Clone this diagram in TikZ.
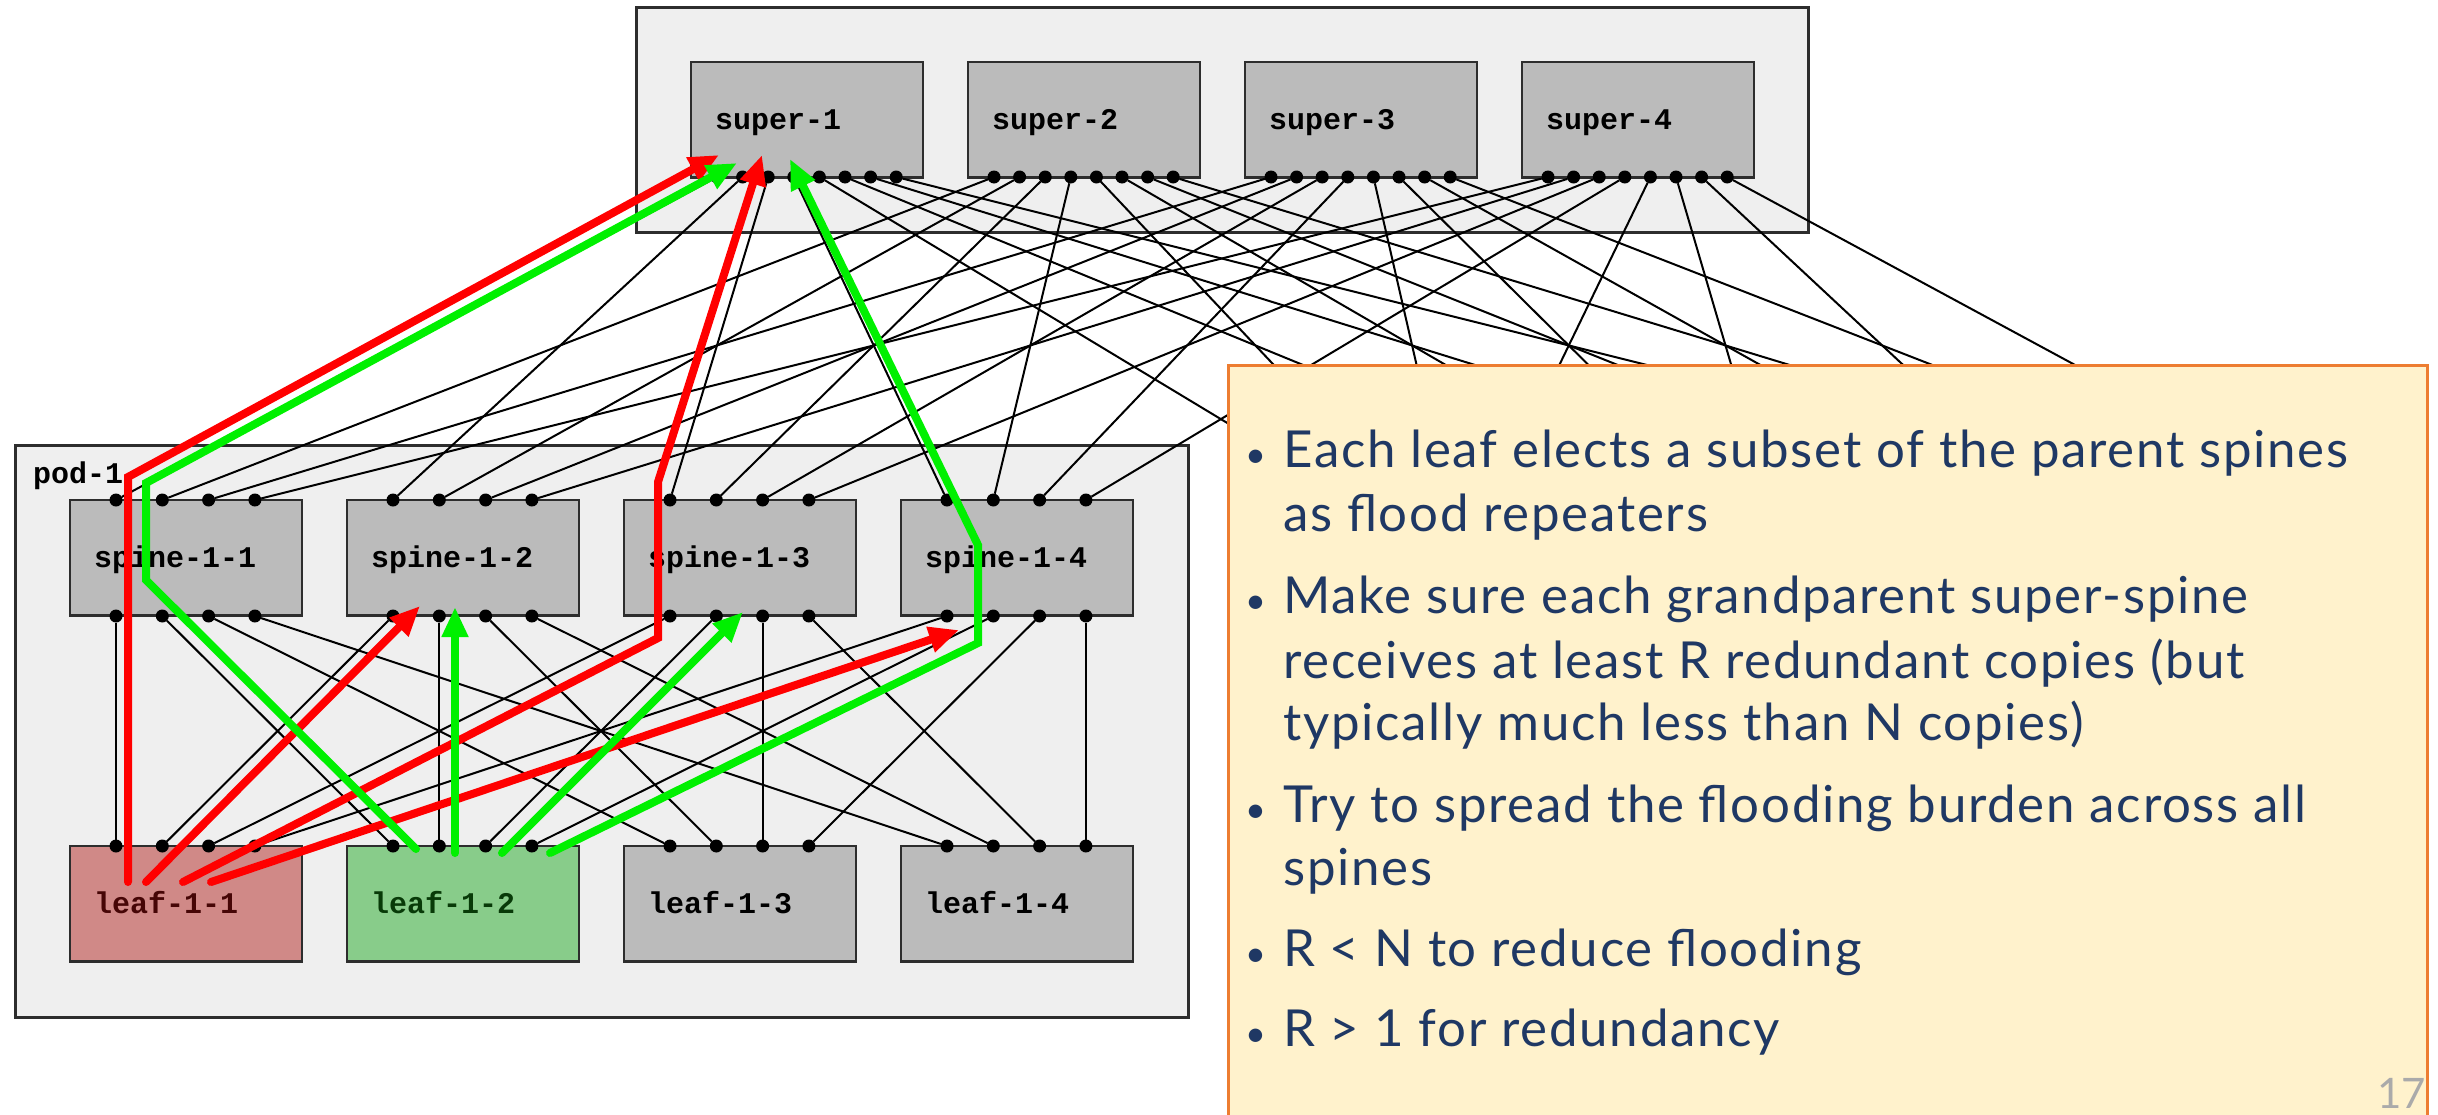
\documentclass[tikz,border=0pt]{standalone}
\usepackage{fontspec}
\usetikzlibrary{arrows.meta}
\newfontfamily\monofam{Liberation Mono}
\newfontfamily\notefam{Lato}[LetterSpace=3.4]
\newfontfamily\numfam{Lato}
\definecolor{panelfill}{RGB}{239,239,239}
\definecolor{panelline}{RGB}{45,45,45}
\definecolor{devfill}{RGB}{187,187,187}
\definecolor{redleaf}{RGB}{208,137,135}
\definecolor{greenleaf}{RGB}{136,204,138}
\definecolor{redleaftext}{RGB}{70,6,6}
\definecolor{greenleaftext}{RGB}{8,58,8}
\definecolor{floodred}{RGB}{255,0,0}
\definecolor{floodgreen}{RGB}{0,240,0}
\definecolor{notefill}{RGB}{255,242,204}
\definecolor{noteline}{RGB}{237,125,49}
\definecolor{notetext}{RGB}{31,56,100}
\definecolor{pagenum}{RGB}{170,170,170}
\begin{document}
\begin{tikzpicture}[x=1pt,y=-1pt,
  container/.style={draw=panelline, line width=3pt, fill=panelfill, anchor=north west,
    inner sep=0pt, outer sep=0pt},
  devbox/.style={draw=panelline, line width=2.5pt, fill=devfill, anchor=north west,
    minimum height=115.5pt, text width=184pt, inner xsep=24pt, inner ysep=0pt,
    outer sep=0pt, align=left, text height=20pt, text depth=0pt,
    font=\monofam\bfseries\fontsize{30pt}{30pt}\selectfont},
  leafstyle1/.style={fill=redleaf, text=redleaftext},
  leafstyle2/.style={fill=greenleaf, text=greenleaftext},
  leafstyle3/.style={},
  leafstyle4/.style={},
  portdot/.style={circle, fill=black, inner sep=0pt, minimum size=13pt, outer sep=0pt},
  link/.style={draw=black, line width=2pt},
  flood/.style={line width=8pt, line cap=round, line join=miter,
    -{Triangle[length=30pt,width=25pt]}},
  redflood/.style={flood, draw=floodred},
  greenflood/.style={flood, draw=floodgreen},
  notebox/.style={draw=noteline, line width=3pt, fill=notefill, anchor=north west,
    inner sep=0pt},
  noteline/.style={anchor=base west, inner sep=0pt, text=notetext,
    font=\notefam\fontsize{51pt}{58pt}\selectfont},
  notebullet/.style={anchor=base west, inner sep=0pt, text=notetext,
    font=\numfam\fontsize{36pt}{36pt}\selectfont},
  podname/.style={anchor=base west, inner sep=0pt,
    font=\monofam\bfseries\fontsize{30pt}{30pt}\selectfont}
]
\useasboundingbox (0,0) rectangle (2438,1114);
\fill[white] (0,0) rectangle (2438,1114);

% enclosing panels
\node[container, minimum width=1172pt, minimum height=225pt] (superrow) at (636,7) {};
\node[container, minimum width=1173pt, minimum height=572pt] (pod1) at (15,445) {};
\node[container, minimum width=1173pt, minimum height=572pt] (pod2) at (1254,445) {};
\node[podname] (pod1name) at (33,483) {pod-1};

% super spines with their eight ports
\foreach \k in {1,...,4}{
  \pgfmathsetmacro\sx{691+277*(\k-1)}
  \node[devbox] (super\k) at (\sx,62) {super-\k};
  \foreach \j in {0,...,7}{
    \pgfmathsetmacro\px{717+277*(\k-1)+25.6*\j}
    \node[portdot] (sp-\k-\j) at (\px,177) {};
  }
}

% pod-1 spines and leaves; pod-2 spine ports as coordinates
\foreach \k in {1,...,4}{
  \pgfmathsetmacro\sx{70+277*(\k-1)}
  \node[devbox] (spine\k) at (\sx,500) {spine-1-\k};
  \node[devbox, leafstyle\k] (leaf\k) at (\sx,846) {leaf-1-\k};
  \foreach \j in {0,...,3}{
    \pgfmathsetmacro\px{116+277*(\k-1)+46.3*\j}
    \node[portdot] (st-\k-\j) at (\px,500) {};
    \node[portdot] (sb-\k-\j) at (\px,616) {};
    \node[portdot] (lt-\k-\j) at (\px,846) {};
    \pgfmathsetmacro\qx{\px+1239}
    \coordinate (p2-\k-\j) at (\qx,500);
  }
}

% super port p -> spine (p mod 4)+1 of pod 1 or 2, spine port k-1
\foreach \k in {1,...,4}{
  \foreach \p in {0,...,3}{
    \pgfmathtruncatemacro\s{\p+1}
    \pgfmathtruncatemacro\t{\k-1}
    \pgfmathtruncatemacro\q{\p+4}
    \draw[link] (sp-\k-\p) -- (st-\s-\t);
    \draw[link] (sp-\k-\q) -- (p2-\s-\t);
  }
}

% spine k bottom port j -> leaf j+1 top port k-1
\foreach \k in {1,...,4}{
  \foreach \j in {0,...,3}{
    \pgfmathtruncatemacro\s{\j+1}
    \pgfmathtruncatemacro\t{\k-1}
    \draw[link] (sb-\k-\j) -- (lt-\s-\t);
  }
}

% flooding from leaf-1-1
\coordinate (r1a) at (128,882); \coordinate (r1b) at (128,477); \coordinate (r1c) at (719,155);
\coordinate (r2a) at (146,882); \coordinate (r2b) at (420,606);
\coordinate (r3a) at (183,882); \coordinate (r3b) at (658,638); \coordinate (r3c) at (658,482);
\coordinate (r3d) at (762,155);
\coordinate (r4a) at (211,882); \coordinate (r4b) at (959,630);
\draw[redflood] (r1a) -- (r1b) -- (r1c);
\draw[redflood] (r2a) -- (r2b);
\draw[redflood] (r3a) -- (r3b) -- (r3c) -- (r3d);
\draw[redflood] (r4a) -- (r4b);

% flooding from leaf-1-2
\coordinate (g1a) at (416,849); \coordinate (g1b) at (146,580); \coordinate (g1c) at (146,483);
\coordinate (g1d) at (737,163);
\coordinate (g2a) at (455,853); \coordinate (g2b) at (455,607);
\coordinate (g3a) at (502,853); \coordinate (g3b) at (743,612);
\coordinate (g4a) at (550,853); \coordinate (g4b) at (978,643); \coordinate (g4c) at (978,545);
\coordinate (g4d) at (790,159);
\draw[greenflood] (g1a) -- (g1b) -- (g1c) -- (g1d);
\draw[greenflood] (g2a) -- (g2b);
\draw[greenflood] (g3a) -- (g3b);
\draw[greenflood] (g4a) -- (g4b) -- (g4c) -- (g4d);

% notes panel
\node[notebox, minimum width=1199pt, minimum height=760pt] (notes) at (1227,364) {};
\foreach \y/\n in {467/b1, 613/b2, 822/b3, 966/b4, 1046/b5}
  \node[notebullet] (\n) at (1245,\y) {\textbullet};
\node[noteline] (t1) at (1283,467) {Each leaf elects a subset of the parent spines};
\node[noteline] (t2) at (1283,531) {as flood repeaters};
\node[noteline] (t3) at (1283,613) {Make sure each grandparent super-spine};
\node[noteline] (t4) at (1283,678) {receives at least R redundant copies (but};
\node[noteline] (t5) at (1283,740) {typically much less than N copies)};
\node[noteline] (t6) at (1283,822) {Try to spread the flooding burden across all};
\node[noteline] (t7) at (1283,885) {spines};
\node[noteline] (t8) at (1283,966) {R < N to reduce flooding};
\node[noteline] (t9) at (1283,1046) {R > 1 for redundancy};
\node[anchor=base east, inner sep=0pt, text=pagenum,
  font=\numfam\fontsize{42pt}{42pt}\selectfont] (pageno) at (2426,1108) {17};
\end{tikzpicture}
\end{document}
